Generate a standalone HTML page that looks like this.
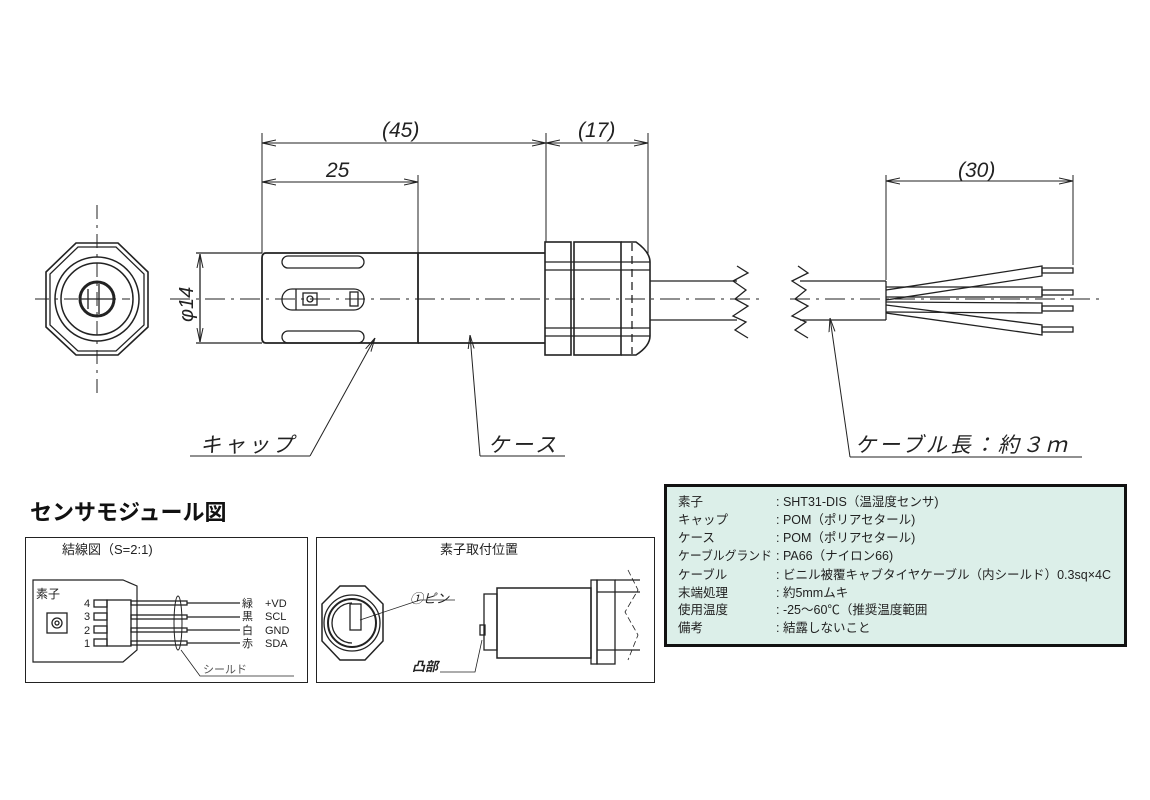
<!DOCTYPE html>
<html><head><meta charset="utf-8"><style>
body{margin:0;background:#fff;}
svg{display:block;font-family:"Liberation Sans","Noto Sans CJK JP",sans-serif;}
.it{font-style:italic;}
</style></head><body>
<svg width="1150" height="800" viewBox="0 0 1150 800" xmlns="http://www.w3.org/2000/svg">
<defs>
<marker id="ar" markerWidth="14" markerHeight="8" refX="14" refY="4" orient="auto" markerUnits="userSpaceOnUse">
<path d="M0,1 L14,4 L0,7" fill="none" stroke="#222" stroke-width="1"/></marker>
</defs>
<g stroke="#222" fill="none" stroke-width="1.3">
<polygon points="76,243 118,243 148,272 148,327 118,355 76,355 46,327 46,272" stroke-width="1.6"/>
<polygon points="78,247 116,247 144,274 144,325 116,351 78,351 50,325 50,274"/>
<circle cx="97" cy="299" r="42" stroke-width="1.5"/>
<circle cx="97" cy="299" r="36" stroke-width="1.5"/>
<circle cx="97" cy="299" r="17" stroke-width="3"/>
<line x1="88" y1="289" x2="88" y2="309"/><line x1="99" y1="284" x2="99" y2="314"/>
<line x1="80" y1="299" x2="114" y2="299"/>
<line x1="97" y1="205" x2="97" y2="395" stroke-dasharray="14,6,3,6" stroke-width="1"/>
<line x1="35" y1="299" x2="130" y2="299" stroke-dasharray="14,6,3,6" stroke-width="1"/>
<line x1="196" y1="253" x2="262" y2="253"/><line x1="196" y1="343" x2="262" y2="343"/>
<line x1="200" y1="299" x2="200" y2="254" marker-end="url(#ar)"/>
<line x1="200" y1="299" x2="200" y2="342" marker-end="url(#ar)"/>
<path d="M266,253 L418,253 L418,343 L266,343 Q262,343 262,338 L262,258 Q262,253 266,253 Z" stroke-width="1.8"/>
<rect x="282" y="256" width="82" height="12" rx="6"/>
<rect x="282" y="289" width="82" height="21" rx="10"/>
<rect x="282" y="331" width="82" height="12" rx="6"/>
<line x1="296" y1="289" x2="296" y2="310"/><rect x="303" y="293" width="14" height="12"/><circle cx="310" cy="299" r="3"/>
<rect x="350" y="292" width="8" height="14"/>
<line x1="418" y1="253" x2="545" y2="253" stroke-width="1.8"/>
<line x1="418" y1="343" x2="545" y2="343" stroke-width="1.8"/>
<rect x="545" y="242" width="26" height="113" stroke-width="1.6"/>
<rect x="574" y="242" width="47" height="113" stroke-width="1.6"/>
<path d="M621,242 L636,242 Q650,252 650,262 L650,336 Q650,346 636,355 L621,355" stroke-width="1.6"/>
<line x1="545" y1="262" x2="650" y2="262"/><line x1="545" y1="270" x2="650" y2="270"/>
<line x1="545" y1="328" x2="650" y2="328"/><line x1="545" y1="336" x2="650" y2="336"/>
<line x1="632" y1="243" x2="632" y2="354" stroke-dasharray="8,5"/>
<line x1="650" y1="281" x2="737" y2="281"/><line x1="650" y1="320" x2="737" y2="320"/>
<path d="M737,266 L748,273 L733,281 L746,290 L735,299 L748,306 L733,316 L746,322 L735,330 L748,338"/>
<path d="M798,266 L808,273 L792,281 L806,290 L795,299 L808,306 L792,316 L806,322 L795,330 L808,338"/>
<line x1="800" y1="281" x2="886" y2="281"/><line x1="800" y1="320" x2="886" y2="320"/>
<line x1="886" y1="281" x2="886" y2="320"/>
<line x1="170" y1="299" x2="765" y2="299" stroke-dasharray="20,6,3,6" stroke-width="1"/>
<line x1="790" y1="299" x2="1100" y2="299" stroke-dasharray="20,6,3,6" stroke-width="1"/>
<path d="M886,290 L1042,266 L1042,276 L886,300"/>
<path d="M886,287 L1042,287 L1042,297 L886,297"/>
<path d="M886,302 L1042,303 L1042,313 L886,312"/>
<path d="M886,305 L1042,325 L1042,335 L886,313"/>
<rect x="1042" y="268" width="31" height="5"/><rect x="1042" y="290" width="31" height="5"/>
<rect x="1042" y="306" width="31" height="5"/><rect x="1042" y="327" width="31" height="5"/>
<line x1="262" y1="133" x2="262" y2="253" stroke-width="1"/>
<line x1="418" y1="175" x2="418" y2="253" stroke-width="1"/>
<line x1="546" y1="133" x2="546" y2="242" stroke-width="1"/>
<line x1="648" y1="133" x2="648" y2="255" stroke-width="1"/>
<line x1="886" y1="175" x2="886" y2="280" stroke-width="1"/>
<line x1="1073" y1="175" x2="1073" y2="265" stroke-width="1"/>
<line x1="400" y1="143" x2="262" y2="143" marker-end="url(#ar)" stroke-width="1"/>
<line x1="400" y1="143" x2="546" y2="143" marker-end="url(#ar)" stroke-width="1"/>
<line x1="597" y1="143" x2="546" y2="143" marker-end="url(#ar)" stroke-width="1"/>
<line x1="597" y1="143" x2="648" y2="143" marker-end="url(#ar)" stroke-width="1"/>
<line x1="340" y1="182" x2="262" y2="182" marker-end="url(#ar)" stroke-width="1"/>
<line x1="340" y1="182" x2="418" y2="182" marker-end="url(#ar)" stroke-width="1"/>
<line x1="980" y1="181" x2="886" y2="181" marker-end="url(#ar)" stroke-width="1"/>
<line x1="980" y1="181" x2="1073" y2="181" marker-end="url(#ar)" stroke-width="1"/>
<path d="M190,456 L310,456" stroke-width="1"/>
<path d="M480,456 L565,456" stroke-width="1"/><line x1="480" y1="456" x2="470" y2="335" marker-end="url(#ar)" stroke-width="1"/>
<path d="M1082,457 L850,457" stroke-width="1"/><line x1="850" y1="457" x2="830" y2="318" marker-end="url(#ar)" stroke-width="1"/>
<line x1="310" y1="456" x2="375" y2="338" marker-end="url(#ar)" stroke-width="1"/>
</g>
<g fill="#222" font-size="21" class="it">
<text x="382" y="137">(45)</text>
<text x="578" y="137">(17)</text>
<text x="326" y="177">25</text>
<text x="958" y="177">(30)</text>
<text x="200" y="452" letter-spacing="3">キャップ</text>
<text x="488" y="452" letter-spacing="3">ケース</text>
<text x="855" y="452" letter-spacing="3">ケーブル長：約３ｍ</text>
<text transform="translate(193,322) rotate(-90)" font-size="20">φ14</text>
</g>
<text x="30" y="520" font-size="22" font-weight="bold" fill="#111">センサモジュール図</text>
<rect x="25.5" y="537.5" width="282" height="145" fill="none" stroke="#222"/>
<text x="62" y="554" font-size="13" fill="#222">結線図（S=2:1)</text>
<g stroke="#222" fill="none" stroke-width="1.3">
<path d="M33,580 L123,580 L137,586 L137,650 L123,662 L33,662 Z" stroke-width="1.2"/>
<rect x="47" y="613" width="20" height="20"/><circle cx="57" cy="623" r="5"/><circle cx="57" cy="623" r="2"/>
<rect x="107" y="600" width="24" height="46"/>
<rect x="94" y="600" width="13" height="7"/><rect x="94" y="613" width="13" height="7"/>
<rect x="94" y="626" width="13" height="7"/><rect x="94" y="639" width="13" height="7"/>
<rect x="131" y="601" width="56" height="4"/><rect x="131" y="615" width="56" height="4"/>
<rect x="131" y="628" width="56" height="4"/><rect x="131" y="641" width="56" height="4"/>
<line x1="187" y1="603" x2="240" y2="603"/><line x1="187" y1="617" x2="240" y2="617"/>
<line x1="187" y1="630" x2="240" y2="630"/><line x1="187" y1="643" x2="240" y2="643"/>
<ellipse cx="178" cy="623" rx="4" ry="27" stroke-width="1"/>
<path d="M181,650 L200,676 L294,676" stroke-width="0.8"/>
</g>
<g font-size="11" fill="#222">
<text x="36" y="598" font-size="12">素子</text>
<text x="84" y="607">4</text><text x="84" y="620">3</text><text x="84" y="634">2</text><text x="84" y="647">1</text>
<text x="242" y="607">緑</text><text x="242" y="620">黒</text><text x="242" y="634">白</text><text x="242" y="647">赤</text>
<text x="265" y="607">+VD</text><text x="265" y="620">SCL</text><text x="265" y="634">GND</text><text x="265" y="647">SDA</text>
<text x="203" y="673" fill="#555">シールド</text>
</g>
<rect x="316.5" y="537.5" width="338" height="145" fill="none" stroke="#222"/>
<text x="440" y="554" font-size="13" fill="#222">素子取付位置</text>
<g stroke="#222" fill="none" stroke-width="1.3">
<polygon points="340,586 365,586 383,604 383,641 365,660 340,660 322,641 322,604" stroke-width="1.5"/>
<circle cx="352" cy="623" r="28"/><circle cx="352" cy="623" r="24" stroke-width="2"/>
<path d="M352,603 A20,20 0 1 0 352,643" /><rect x="350" y="604" width="11" height="26"/>
<path d="M360,620 L420,600 L455,600" stroke-width="0.8"/>
<rect x="484" y="594" width="13" height="56"/><rect x="497" y="588" width="94" height="70" stroke-width="1.5"/>
<rect x="591" y="580" width="6" height="84"/><rect x="597" y="580" width="18" height="84"/>
<line x1="597" y1="592" x2="640" y2="592"/><line x1="597" y1="650" x2="640" y2="650"/>
<line x1="615" y1="580" x2="640" y2="580"/>
<path d="M628,570 L638,590 L625,612 L638,635 L628,660" stroke-width="0.8" stroke-dasharray="6,3"/>
<rect x="480" y="625" width="5" height="10"/>
<path d="M440,672 L475,672 L482,640" stroke-width="0.8"/>
</g>
<text x="410" y="603" font-size="13" fill="#222" class="it">①ピン</text>
<text x="412" y="671" font-size="13" fill="#222" class="it" font-weight="bold">凸部</text>
<rect x="665.5" y="485.5" width="460" height="160" fill="#dcefe9" stroke="#111" stroke-width="3"/>
<g font-size="12.5" fill="#222">
<text x="678" y="506">素子</text><text x="776" y="506">: SHT31-DIS（温湿度センサ)</text>
<text x="678" y="524">キャップ</text><text x="776" y="524">: POM（ポリアセタール)</text>
<text x="678" y="542">ケース</text><text x="776" y="542">: POM（ポリアセタール)</text>
<text x="678" y="560" textLength="94" lengthAdjust="spacingAndGlyphs">ケーブルグランド</text><text x="776" y="560">: PA66（ナイロン66)</text>
<text x="678" y="579">ケーブル</text><text x="776" y="579" textLength="335" lengthAdjust="spacingAndGlyphs">: ビニル被覆キャブタイヤケーブル（内シールド）0.3sq×4C</text>
<text x="678" y="597">末端処理</text><text x="776" y="597">: 約5mmムキ</text>
<text x="678" y="614">使用温度</text><text x="776" y="614">: -25～60℃（推奨温度範囲</text>
<text x="678" y="632">備考</text><text x="776" y="632">: 結露しないこと</text>
</g>
</svg>
</body></html>
